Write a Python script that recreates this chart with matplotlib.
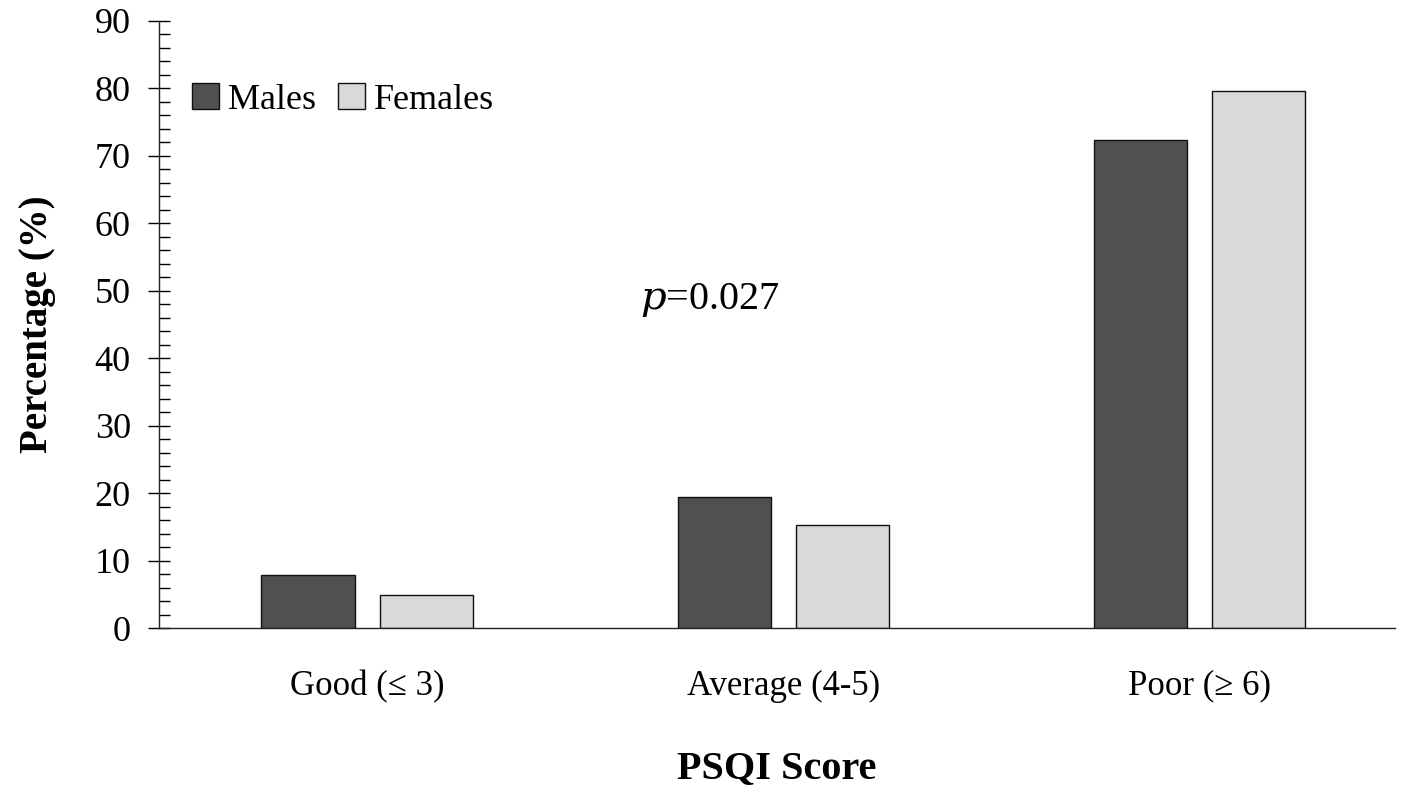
import matplotlib
matplotlib.use("Agg")
import matplotlib.pyplot as plt
import numpy as np
from matplotlib.ticker import MultipleLocator

categories = ["Good (\u2264 3)", "Average (4-5)", "Poor (\u2265 6)"]
males = [7.9, 19.4, 72.4]
females = [4.9, 15.3, 79.6]
yticks = [0, 10, 20, 30, 40, 50, 60, 70, 80, 90]

plt.rcParams['font.family'] = ['Liberation Serif', 'DejaVu Serif']

fig = plt.figure(figsize=(14.18, 7.94), dpi=100)
ax = fig.add_axes([0.1121, 0.209, 0.8717, 0.7646])

x = np.arange(len(categories))
w = 0.224
off = 0.142
ax.bar(x - off, males, w, color="#505050", edgecolor="#111111", linewidth=1.0, label="Males")
ax.bar(x + off, females, w, color="#d9d9d9", edgecolor="#111111", linewidth=1.0, label="Females")

ax.set_xlim(-0.5, 2.47)
ax.set_ylim(0, 90)
ax.set_yticks(yticks)
ax.yaxis.set_minor_locator(MultipleLocator(2))
ax.tick_params(axis='y', which='major', direction='inout', length=16.5, width=1.0, labelsize=26, pad=12)
ax.tick_params(axis='y', which='minor', direction='in', length=8, width=1.0)
ax.set_xticks(x)
ax.set_xticklabels(categories)
ax.tick_params(axis='x', which='both', length=0, labelsize=25, pad=30)

for s in ['top', 'right']:
    ax.spines[s].set_visible(False)
for s in ['left', 'bottom']:
    ax.spines[s].set_linewidth(1.0)
    ax.spines[s].set_color("#222222")

ax.set_ylabel("Percentage (%)", fontsize=28, fontweight='bold', labelpad=28)
ax.set_xlabel("PSQI Score", fontsize=29, fontweight='bold', labelpad=34)

ax.text(0.656, 48.6, r"$p$=0.027", fontsize=29, va='center', ha='left',
        math_fontfamily='dejavuserif')

leg = ax.legend(loc='upper left', bbox_to_anchor=(0.015, 0.922), frameon=False,
                fontsize=26, handlelength=0.75, handleheight=0.75, handletextpad=0.25,
                ncol=2, columnspacing=0.6, borderaxespad=0)

fig.savefig("out.png", dpi=100)
